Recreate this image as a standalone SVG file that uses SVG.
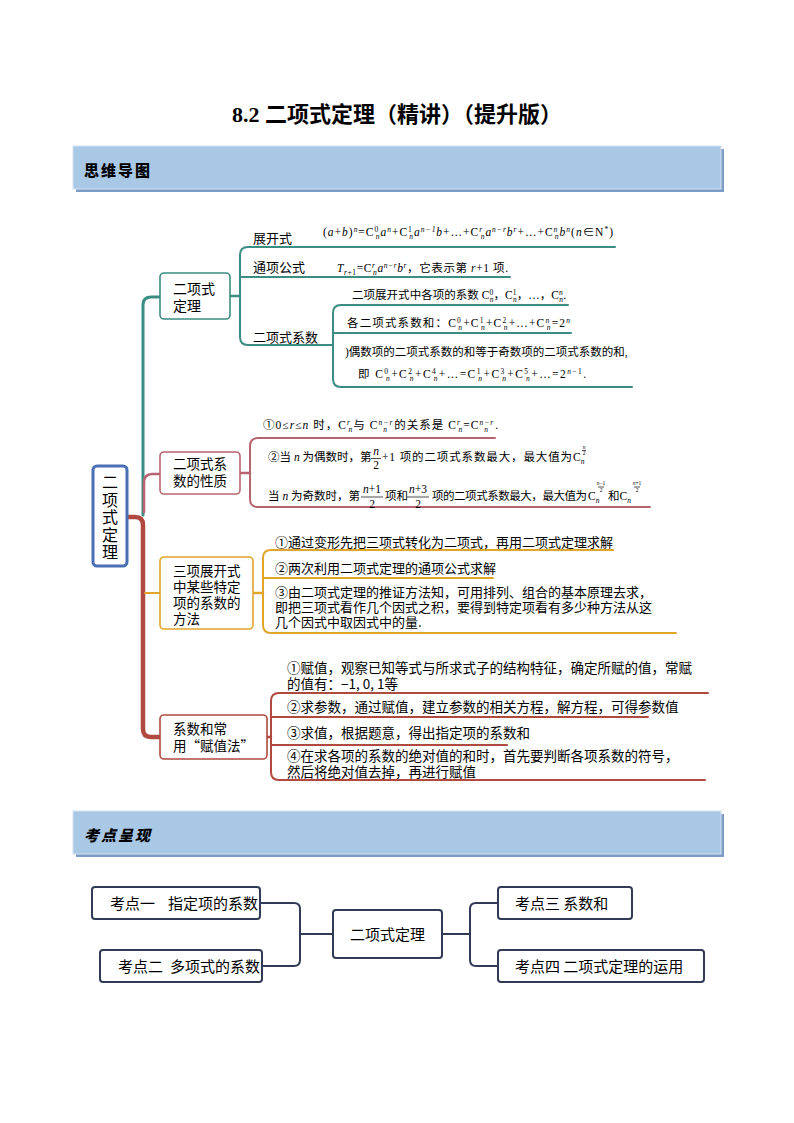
<svg xmlns="http://www.w3.org/2000/svg" width="794" height="1123" viewBox="0 0 794 1123">
<style>
.cj{font-family:"Noto Sans CJK SC","Liberation Sans",sans-serif;fill:#000}
.m{font-family:"Liberation Serif","Noto Sans CJK SC",serif;font-size:11.5px;fill:#000}
.i{font-style:italic}
.s{font-size:7.5px}
.xs{font-size:5.5px}
.box{fill:#fff;stroke-width:1.6}
.ln{fill:none;stroke-linecap:round;stroke-linejoin:round}
.teal{stroke:#3b8c82}
.pink{stroke:#b86470}
.org{stroke:#e2a52c}
.red{stroke:#b04a40}
.bb{fill:#fff;stroke:#323b55;stroke-width:2}
.bar{fill:#a9c8e5;stroke:#d3e2f1;stroke-width:1}
.sh{fill:#7d9dc6}
.fb{stroke:#000;stroke-width:0.7}
</style>
<rect width="794" height="1123" fill="#fff"/>
<text x="397" y="122" text-anchor="middle" font-family="Liberation Serif,Noto Sans CJK SC,serif" font-weight="bold" font-size="22">8.2 二项式定理（精讲）（提升版）</text>

<g id="header1">
<rect class="sh" x="76" y="149" width="648" height="43"/>
<rect class="bar" x="73" y="146" width="648" height="43"/>
<text class="cj" x="84" y="176" font-size="15" font-weight="900" letter-spacing="2">思维导图</text>
</g>
<g id="header2">
<rect class="sh" x="76" y="814" width="648" height="43"/>
<rect class="bar" x="73" y="811" width="648" height="43"/>
<text class="cj" x="84" y="841" font-size="15" font-weight="900" letter-spacing="2" font-style="italic">考点呈现</text>
</g>

<g id="connectors">
<path class="ln teal" stroke-width="3" d="M143,515 V305 Q143,297 151,297 H160"/>
<path class="ln pink" stroke-width="2.5" d="M144,512 V483 Q144,474 152,474 H160"/>
<path class="ln red" stroke-width="4.5" d="M127,517 H135 Q143,517 143,525 V729 Q143,737 151,737 H160"/>
<path class="ln org" stroke-width="2" d="M145,593 H160"/>
<path class="ln teal" stroke-width="2.5" d="M230,296 H240"/>
<path class="ln teal" stroke-width="2" d="M615,247 H248 Q240,247 240,255 V337 Q240,345 248,345 H333"/>
<path class="ln teal" stroke-width="2" d="M240,277 H510"/>
<path class="ln teal" stroke-width="2" d="M568,305 H341 Q333,305 333,313 V379 Q333,387 341,387 H632"/>
<path class="ln teal" stroke-width="2" d="M333,333 H571"/>
<path class="ln pink" stroke-width="2.5" d="M240,473 H250"/>
<path class="ln pink" stroke-width="2" d="M495,438 H258 Q250,438 250,446 V499 Q250,507 258,507 H650"/>
<path class="ln org" stroke-width="2.5" d="M253,593 H263"/>
<path class="ln org" stroke-width="2" d="M613,550 H271 Q263,550 263,558 V625 Q263,633 271,633 H676"/>
<path class="ln org" stroke-width="2" d="M263,578 H493"/>
<path class="ln red" stroke-width="2.5" d="M267,737 H271"/>
<path class="ln red" stroke-width="2" d="M708,693 H279 Q271,693 271,701 V772 Q271,780 279,780 H705"/>
<path class="ln red" stroke-width="2" d="M271,717 H648"/>
<path class="ln red" stroke-width="2" d="M271,745 H507"/>
<path class="ln" stroke="#323b55" stroke-width="2" d="M260,903 H294 Q300,903 300,909 V960 Q300,966 294,966 H262 M300,934 H333"/>
<path class="ln" stroke="#323b55" stroke-width="2" d="M442,934 H470 M498,903 H476 Q470,903 470,909 V960 Q470,966 476,966 H498"/>
</g>

<g id="main">
<rect x="93" y="466" width="34" height="100" rx="4" fill="#fff" stroke="#4a6fb5" stroke-width="3"/>
<text class="cj" font-size="16" x="110" y="474" writing-mode="tb" letter-spacing="1.5">二项式定理</text>
</g>

<g id="node1">
<rect class="box teal" x="160" y="273" width="70" height="46" rx="4"/>
<text class="cj" font-size="14" x="173" y="294">二项式<tspan x="173" dy="17">定理</tspan></text>
</g>
<g id="node1a">
<text class="cj" font-size="13" x="253" y="243">展开式</text>
<text class="m" font-size="12" x="323" y="236" textLength="290">(<tspan class="i">a</tspan>+<tspan class="i">b</tspan>)<tspan class="s i" dy="-4">n</tspan><tspan dy="4">=C</tspan><tspan class="s" dy="-4">0</tspan><tspan class="s i" dx="-3.5" dy="7">n</tspan><tspan class="i" dy="-3">a</tspan><tspan class="s i" dy="-4">n</tspan><tspan dy="4">+C</tspan><tspan class="s" dy="-4">1</tspan><tspan class="s i" dx="-3.5" dy="7">n</tspan><tspan class="i" dy="-3">a</tspan><tspan class="s i" dy="-4">n−1</tspan><tspan class="i" dy="4">b</tspan>+…+C<tspan class="s i" dy="-4">r</tspan><tspan class="s i" dx="-2.5" dy="7">n</tspan><tspan class="i" dy="-3">a</tspan><tspan class="s i" dy="-4">n−r</tspan><tspan class="i" dy="4">b</tspan><tspan class="s i" dy="-4">r</tspan><tspan dy="4">+…+C</tspan><tspan class="s i" dy="-4">n</tspan><tspan class="s i" dx="-3.5" dy="7">n</tspan><tspan class="i" dy="-3">b</tspan><tspan class="s i" dy="-4">n</tspan><tspan dy="4">(</tspan><tspan class="i">n</tspan>∈N<tspan class="s" dy="-4">*</tspan><tspan dy="4">)</tspan></text>
</g>
<g id="node1b">
<text class="cj" font-size="13" x="253" y="272">通项公式</text>
<text class="m" x="337" y="272" textLength="171"><tspan class="i">T</tspan><tspan class="s" dy="3"><tspan class="i">r</tspan>+1</tspan><tspan dy="-3">=C</tspan><tspan class="s i" dy="-4">r</tspan><tspan class="s i" dx="-2.5" dy="7">n</tspan><tspan class="i" dy="-3">a</tspan><tspan class="s i" dy="-4">n−r</tspan><tspan class="i" dy="4">b</tspan><tspan class="s i" dy="-4">r</tspan><tspan dy="4">，它表示第 </tspan><tspan class="i">r</tspan>+1 项.</text>
</g>
<g id="node1c">
<text class="cj" font-size="13" x="253" y="342">二项式系数</text>
<text class="m" x="352" y="299" textLength="214">二项展开式中各项的系数 C<tspan class="s" dy="-4">0</tspan><tspan class="s i" dx="-3.5" dy="7">n</tspan><tspan dy="-3">，C</tspan><tspan class="s" dy="-4">1</tspan><tspan class="s i" dx="-3.5" dy="7">n</tspan><tspan dy="-3">，…，C</tspan><tspan class="s i" dy="-4">n</tspan><tspan class="s i" dx="-3.5" dy="7">n</tspan><tspan dy="-3">.</tspan></text>
<text class="m" x="347" y="327" textLength="223">各二项式系数和：C<tspan class="s" dy="-4">0</tspan><tspan class="s i" dx="-3.5" dy="7">n</tspan><tspan dy="-3">+C</tspan><tspan class="s" dy="-4">1</tspan><tspan class="s i" dx="-3.5" dy="7">n</tspan><tspan dy="-3">+C</tspan><tspan class="s" dy="-4">2</tspan><tspan class="s i" dx="-3.5" dy="7">n</tspan><tspan dy="-3">+…+C</tspan><tspan class="s i" dy="-4">n</tspan><tspan class="s i" dx="-3.5" dy="7">n</tspan><tspan dy="-3">=2</tspan><tspan class="s i" dy="-4">n</tspan></text>
<text class="m" x="345" y="356">)偶数项的二项式系数的和等于奇数项的二项式系数的和,</text>
<text class="m" x="358" y="378" textLength="228">即 C<tspan class="s" dy="-4">0</tspan><tspan class="s i" dx="-3.5" dy="7">n</tspan><tspan dy="-3">+C</tspan><tspan class="s" dy="-4">2</tspan><tspan class="s i" dx="-3.5" dy="7">n</tspan><tspan dy="-3">+C</tspan><tspan class="s" dy="-4">4</tspan><tspan class="s i" dx="-3.5" dy="7">n</tspan><tspan dy="-3">+…=C</tspan><tspan class="s" dy="-4">1</tspan><tspan class="s i" dx="-3.5" dy="7">n</tspan><tspan dy="-3">+C</tspan><tspan class="s" dy="-4">3</tspan><tspan class="s i" dx="-3.5" dy="7">n</tspan><tspan dy="-3">+C</tspan><tspan class="s" dy="-4">5</tspan><tspan class="s i" dx="-3.5" dy="7">n</tspan><tspan dy="-3">+…=2</tspan><tspan class="s" dy="-4"><tspan class="i">n</tspan>−1</tspan><tspan dy="4">.</tspan></text>
</g>

<g id="node2">
<rect class="box pink" x="160" y="452" width="80" height="42" rx="4"/>
<text class="cj" font-size="13.5" x="173" y="469">二项式系<tspan x="173" dy="17">数的性质</tspan></text>
</g>
<g id="node2a">
<text class="m" x="263" y="429" textLength="235">①0≤<tspan class="i">r</tspan>≤<tspan class="i">n</tspan> 时，C<tspan class="s i" dy="-4">r</tspan><tspan class="s i" dx="-2.5" dy="7">n</tspan><tspan dy="-3">与 C</tspan><tspan class="s i" dy="-4">n−r</tspan><tspan class="s i" dx="-10" dy="7">n</tspan><tspan dx="6" dy="-3">的关系是 C</tspan><tspan class="s i" dy="-4">r</tspan><tspan class="s i" dx="-2.5" dy="7">n</tspan><tspan dy="-3">=C</tspan><tspan class="s i" dy="-4">n−r</tspan><tspan class="s i" dx="-10" dy="7">n</tspan><tspan dx="6" dy="-3">.</tspan></text>
</g>
<g id="node2b">
<text class="m" x="268" y="461">②当 <tspan class="i">n</tspan> 为偶数时，第</text>
<text class="m i" x="376" y="455" text-anchor="middle">n</text>
<line class="fb" x1="371" y1="458.5" x2="381" y2="458.5"/>
<text class="m" x="376" y="469" text-anchor="middle">2</text>
<text class="m" x="382" y="461" textLength="190">+1 项的二项式系数最大，最大值为</text>
<text class="m" x="573" y="461">C<tspan class="s i" dy="3">n</tspan></text>
<text class="m xs i" x="584" y="449" text-anchor="middle">n</text>
<line class="fb" x1="582" y1="450.5" x2="586" y2="450.5" stroke-width="0.4"/>
<text class="m xs" x="584" y="455" text-anchor="middle">2</text>
</g>
<g id="node2c">
<text class="m" x="268" y="500">当 <tspan class="i">n</tspan> 为奇数时，第</text>
<text class="m" x="372" y="493" text-anchor="middle"><tspan class="i">n</tspan>+1</text>
<line class="fb" x1="361" y1="497" x2="383" y2="497"/>
<text class="m" x="372" y="508" text-anchor="middle">2</text>
<text class="m" x="385" y="500">项和</text>
<text class="m" x="418" y="493" text-anchor="middle"><tspan class="i">n</tspan>+3</text>
<line class="fb" x1="407" y1="497" x2="429" y2="497"/>
<text class="m" x="418" y="508" text-anchor="middle">2</text>
<text class="m" x="432" y="500" textLength="155">项的二项式系数最大，最大值为</text>
<text class="m" x="588" y="500">C<tspan class="s i" dy="3">n</tspan></text>
<text class="m xs" x="601" y="485" text-anchor="middle"><tspan class="i">n</tspan>−1</text>
<line class="fb" x1="598" y1="487" x2="604" y2="487" stroke-width="0.4"/>
<text class="m xs" x="601" y="492" text-anchor="middle">2</text>
<text class="m" x="608" y="500">和C<tspan class="s i" dy="3">n</tspan></text>
<text class="m xs" x="637" y="485" text-anchor="middle"><tspan class="i">n</tspan>+1</text>
<line class="fb" x1="634" y1="487" x2="640" y2="487" stroke-width="0.4"/>
<text class="m xs" x="637" y="492" text-anchor="middle">2</text>
</g>

<g id="node3">
<rect class="box org" x="160" y="557" width="93" height="72" rx="4"/>
<text class="cj" font-size="13.5" x="173" y="576">三项展开式<tspan x="173" dy="16">中某些特定</tspan><tspan x="173" dy="16">项的系数的</tspan><tspan x="173" dy="16">方法</tspan></text>
</g>
<g id="node3a" class="cj" font-size="13">
<text x="275" y="547">①通过变形先把三项式转化为二项式，再用二项式定理求解</text>
<text x="275" y="573">②两次利用二项式定理的通项公式求解</text>
<text x="275" y="597">③由二项式定理的推证方法知，可用排列、组合的基本原理去求，<tspan x="275" dy="15">即把三项式看作几个因式之积，要得到特定项看有多少种方法从这</tspan><tspan x="275" dy="15">几个因式中取因式中的量.</tspan></text>
</g>

<g id="node4">
<rect class="box red" x="160" y="715" width="107" height="44" rx="4"/>
<text class="cj" font-size="13.5" x="173" y="734">系数和常<tspan x="173" dy="17">用“赋值法”</tspan></text>
</g>
<g id="node4a" class="cj" font-size="13.5">
<text x="287" y="673">①赋值，观察已知等式与所求式子的结构特征，确定所赋的值，常赋<tspan x="287" dy="16">的值有：−1, 0, 1等</tspan></text>
<text x="287" y="712">②求参数，通过赋值，建立参数的相关方程，解方程，可得参数值</text>
<text x="287" y="738">③求值，根据题意，得出指定项的系数和</text>
<text x="287" y="761">④在求各项的系数的绝对值的和时，首先要判断各项系数的符号，<tspan x="287" dy="16">然后将绝对值去掉，再进行赋值</tspan></text>
</g>

<g id="k1"><rect class="bb" x="92" y="887" width="168" height="32" rx="3"/><text class="cj" font-size="15" x="110" y="909">考点一<tspan x="168">指定项的系数</tspan></text></g>
<g id="k2"><rect class="bb" x="100" y="950" width="162" height="32" rx="3"/><text class="cj" font-size="15" x="118" y="972">考点二<tspan dx="7">多项式的系数</tspan></text></g>
<g id="k0"><rect class="bb" x="333" y="910" width="109" height="48" rx="3"/><text class="cj" font-size="15" x="387.5" y="940" text-anchor="middle">二项式定理</text></g>
<g id="k3"><rect class="bb" x="498" y="887" width="134" height="32" rx="3"/><text class="cj" font-size="15" x="515" y="909">考点三 系数和</text></g>
<g id="k4"><rect class="bb" x="498" y="950" width="206" height="32" rx="3"/><text class="cj" font-size="15" x="515" y="972">考点四 二项式定理的运用</text></g>
</svg>
